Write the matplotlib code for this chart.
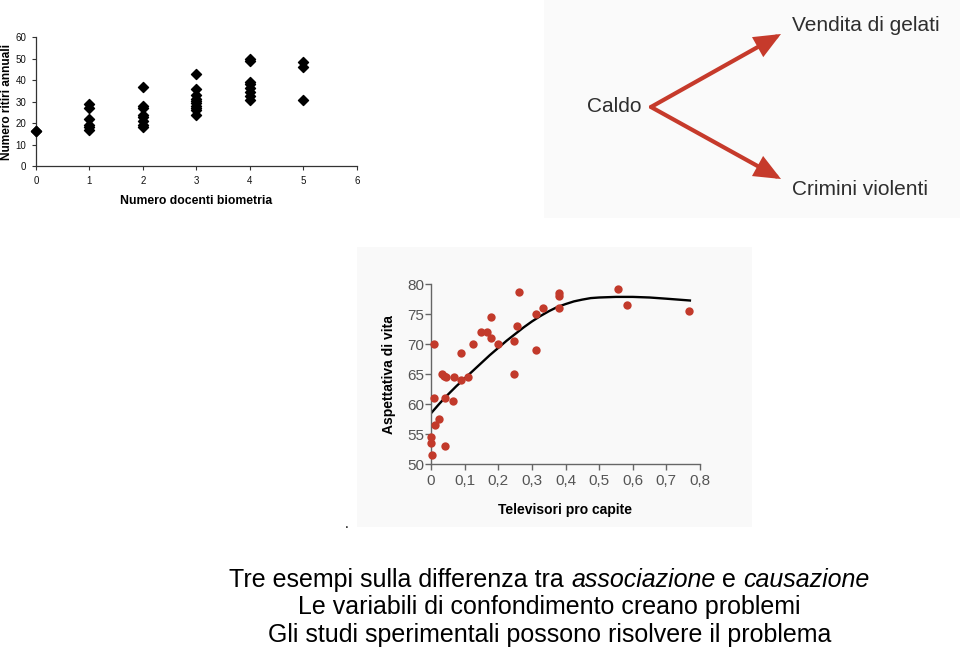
import matplotlib
matplotlib.use('Agg')
import matplotlib.pyplot as plt
from matplotlib.patches import Rectangle, FancyArrowPatch
from matplotlib.transforms import Affine2D

plt.rcParams['font.family'] = ['Liberation Sans', 'DejaVu Sans']

# ---------------- data ----------------
# Panel 1: Numero docenti biometria vs Numero ritiri annuali
docenti = [0, 0,
           1, 1, 1, 1, 1, 1,
           2, 2, 2, 2, 2, 2, 2, 2,
           3, 3, 3, 3, 3, 3, 3, 3, 3, 3,
           4, 4, 4, 4, 4, 4, 4, 4,
           5, 5, 5]
ritiri = [16.5, 16.5,
          29, 27, 22, 19, 18, 17,
          37, 28, 27, 24, 22.7, 21, 19, 18,
          43, 36, 33, 31.3, 30.3, 29.2, 28, 27, 26, 24,
          50, 49, 39, 38, 36.4, 34.5, 32.5, 31,
          48.4, 46, 31]
p1_xticks = [0, 1, 2, 3, 4, 5, 6]
p1_yticks = [0, 10, 20, 30, 40, 50, 60]

# Panel 2: diagram labels
causa = "Caldo"
effetti = ["Vendita di gelati", "Crimini violenti"]

# Panel 3: Televisori pro capite vs Aspettativa di vita
tv = [0.0, 0.0, 0.002, 0.009, 0.009, 0.013, 0.023, 0.032, 0.039, 0.045,
      0.042, 0.042, 0.066, 0.069, 0.088, 0.088, 0.111, 0.125, 0.149, 0.166,
      0.178, 0.178, 0.200, 0.248, 0.248, 0.256, 0.263, 0.311, 0.311, 0.332,
      0.382, 0.382, 0.382, 0.555, 0.584, 0.768]
vita = [54.6, 53.5, 51.5, 70.1, 61.0, 56.6, 57.6, 65.1, 64.7, 64.6,
        61.0, 53.0, 60.6, 64.6, 68.6, 64.1, 64.6, 70.1, 72.1, 72.1,
        74.6, 71.1, 70.1, 70.6, 65.1, 73.1, 78.7, 75.1, 69.1, 76.1,
        78.6, 78.1, 76.1, 79.2, 76.6, 75.6]
curva_x = [0.0, 0.025, 0.05, 0.075, 0.1, 0.125, 0.15, 0.175, 0.2, 0.225, 0.25,
           0.275, 0.3, 0.325, 0.35, 0.375, 0.4, 0.425, 0.45, 0.475, 0.5,
           0.55, 0.6, 0.65, 0.7, 0.77]
curva_y = [58.5, 60.1, 61.6, 63.0, 64.3, 65.6, 66.9, 68.2, 69.4, 70.6, 71.7,
           72.8, 73.8, 74.7, 75.5, 76.2, 76.7, 77.15, 77.45, 77.7, 77.8,
           77.9, 77.9, 77.8, 77.6, 77.3]
p3_xticks = [0, 0.1, 0.2, 0.3, 0.4, 0.5, 0.6, 0.7, 0.8]
p3_xlabels = ["0", "0,1", "0,2", "0,3", "0,4", "0,5", "0,6", "0,7", "0,8"]
p3_yticks = [50, 55, 60, 65, 70, 75, 80]

# Caption
riga1 = [("Tre esempi sulla differenza tra ", "normal"), ("associazione", "italic"),
         (" e ", "normal"), ("causazione", "italic")]
riga2 = "Le variabili di confondimento creano problemi"
riga3 = "Gli studi sperimentali possono risolvere il problema"

# ---------------- figure ----------------
W, H = 960, 650
fig = plt.figure(figsize=(W / 100, H / 100), dpi=100)
fig.patch.set_facecolor('white')
pix = Affine2D().scale(1 / W, -1 / H).translate(0, 1) + fig.transFigure


def rect(l, t, r, b):
    return [l / W, 1 - b / H, (r - l) / W, (b - t) / H]


# background patches of the pasted images
fig.patches.append(Rectangle((544, 0), 416, 218, transform=pix,
                             facecolor='#fafafa', edgecolor='none', zorder=-5))
fig.patches.append(Rectangle((357, 247), 395, 280, transform=pix,
                             facecolor='#f9f9f9', edgecolor='none', zorder=-5))

# ---- Panel 1 ----
ax1 = fig.add_axes(rect(36, 37.3, 357, 166))
ax1.set_facecolor('none')
ax1.scatter(docenti, ritiri, marker='D', s=26, color='black', zorder=3, clip_on=False)
ax1.set_xlim(0, 6)
ax1.set_ylim(0, 60)
ax1.set_xticks(p1_xticks)
ax1.set_yticks(p1_yticks)
for s in ['top', 'right']:
    ax1.spines[s].set_visible(False)
for s in ['left', 'bottom']:
    ax1.spines[s].set_color('#333333')
    ax1.spines[s].set_linewidth(0.9)
ax1.tick_params(axis='both', labelsize=7, length=3, width=0.8, color='#333333',
                pad=4, labelcolor='#111111')
ax1.set_xlabel("Numero docenti biometria", fontsize=8.8, fontweight='bold', labelpad=7)
ax1.set_ylabel("Numero ritiri annuali", fontsize=8.6, fontweight='bold', labelpad=1.5)

# ---- Panel 2: diagram ----
rosso = '#c63a2b'
fig.text(587, 106, causa, transform=pix, fontsize=15, color='#2e2e2e',
         ha='left', va='center')
fig.text(792, 25.5, effetti[0], transform=pix, fontsize=15, color='#2e2e2e',
         ha='left', va='center')
fig.text(792, 189.5, effetti[1], transform=pix, fontsize=15, color='#2e2e2e',
         ha='left', va='center')
for tip in [(781, 34), (781, 179)]:
    arr = FancyArrowPatch((651, 107), tip, transform=pix,
                          arrowstyle='-|>,head_length=14,head_width=6',
                          mutation_scale=1, lw=3, color=rosso,
                          shrinkA=0, shrinkB=0, joinstyle='miter')
    fig.patches.append(arr)

# ---- Panel 3 ----
ax3 = fig.add_axes(rect(431, 284.3, 700, 464.3))
ax3.set_facecolor('none')
ax3.plot(curva_x, curva_y, color='black', lw=1.7, zorder=2, solid_joinstyle='round')
ax3.scatter(tv, vita, s=36, color='#c23a2b', zorder=3, clip_on=False, linewidths=0)
ax3.set_xlim(0, 0.8)
ax3.set_ylim(50, 80)
ax3.set_xticks(p3_xticks)
ax3.set_xticklabels(p3_xlabels)
ax3.set_yticks(p3_yticks)
for s in ['top', 'right']:
    ax3.spines[s].set_visible(False)
for s in ['left', 'bottom']:
    ax3.spines[s].set_color('#666666')
    ax3.spines[s].set_linewidth(1.0)
ax3.tick_params(axis='both', labelsize=11, length=4, width=1.0, color='#666666',
                labelcolor='#555555')
ax3.tick_params(axis='y', pad=1)
ax3.tick_params(axis='x', pad=3)
ax3.set_xlabel("Televisori pro capite", fontsize=10, fontweight='bold', labelpad=11)
ax3.set_ylabel("Aspettativa di vita", fontsize=10, fontweight='bold', labelpad=8)

fig.text(347, 528, ".", transform=pix, fontsize=10, ha='center', va='baseline')

# ---- Caption ----
renderer = fig.canvas.get_renderer()
cx = 549.5
pieces = []
for txt, st in riga1:
    t = fig.text(0, 586.7, txt, transform=pix, fontsize=18, style=st,
                 ha='left', va='baseline')
    pieces.append(t)
widths = [t.get_window_extent(renderer).width for t in pieces]
x = cx - sum(widths) / 2
for t, w in zip(pieces, widths):
    t.set_x(x)
    x += w
fig.text(cx, 614, riga2, transform=pix, fontsize=18, ha='center', va='baseline')
fig.text(cx, 641.7, riga3, transform=pix, fontsize=18, ha='center', va='baseline')

fig.savefig('out.png', dpi=100)
